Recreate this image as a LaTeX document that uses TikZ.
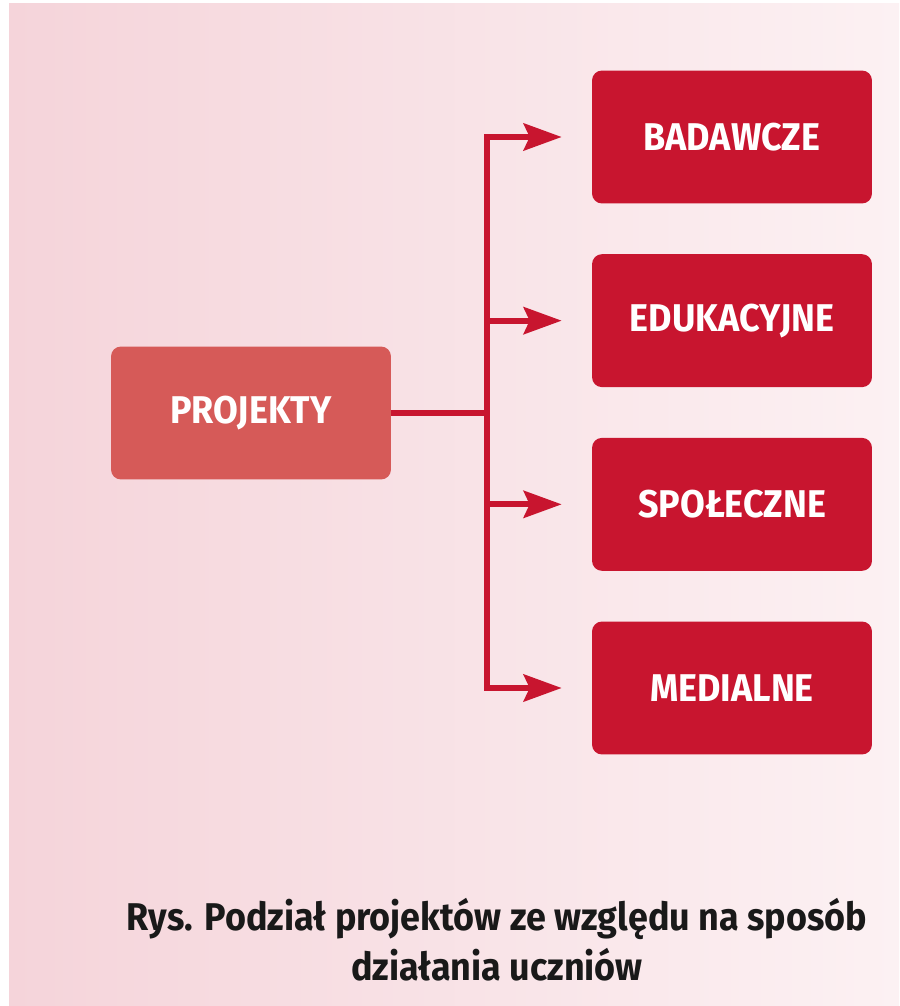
\documentclass[tikz,border=0pt]{standalone}
\usepackage{fontspec}
\setmainfont[FakeStretch=0.93]{Fira Sans}
\usepackage{tikz}
\usetikzlibrary{arrows.meta, positioning, shapes}
\usepackage{xcolor}
\definecolor{bgleft}{HTML}{F5D4DA}
\definecolor{bgright}{HTML}{FCF1F3}
\definecolor{boxred}{HTML}{C8152F}
\definecolor{projred}{HTML}{D65A58}

\begin{document}
\begin{tikzpicture}[
x=0.02cm, y=-0.02cm,
node distance=1cm,
projnode/.style={rectangle, rounded corners=0.2cm, fill=projred, text=white, minimum width=5.6cm, minimum height=2.66cm, font=\bfseries\fontsize{22}{24}\selectfont},
typenode/.style={rectangle, rounded corners=0.2cm, fill=boxred, text=white, minimum width=5.6cm, minimum height=2.66cm, font=\bfseries\fontsize{22}{24}\selectfont},
conn/.style={draw=boxred, line width=0.12cm},
arrowconn/.style={conn, -{Stealth[length=0.76cm, width=0.54cm, inset=0.12cm]}, shorten >=0.6cm},
]
%Background
\useasboundingbox (0,0) rectangle (899,1006);
\fill[white] (0,0) rectangle (899,1006);
\shade[left color=bgleft, right color=bgright] (9,4) rectangle (899,1005);
%Nodes
\node[projnode] (PROJ) at (251,413) {PROJEKTY};
\node[typenode] (BAD) at (732,137) {BADAWCZE};
\node[typenode] (EDU) [below=of BAD] {EDUKACYJNE};
\node[typenode] (SPO) [below=of EDU] {SPOŁECZNE};
\node[typenode] (MED) [below=of SPO] {MEDIALNE};
\coordinate (FORK) at (487,413);
%Connectors
\draw[conn] (PROJ.east) -- (FORK);
\draw[arrowconn] (FORK |- MED) -- (FORK |- BAD) -- (BAD);
\draw[arrowconn] (FORK |- BAD) -- (FORK |- MED) -- (MED);
\path (FORK |- EDU) edge [arrowconn] (EDU)
      (FORK |- SPO) edge [arrowconn] (SPO);
%Caption
\node[align=center, font=\bfseries\fontsize{22}{28.5}\selectfont, text=black!90] (CAP) at (497,940) {Rys. Podział projektów ze względu na sposób\\działania uczniów};
\end{tikzpicture}
\end{document}
